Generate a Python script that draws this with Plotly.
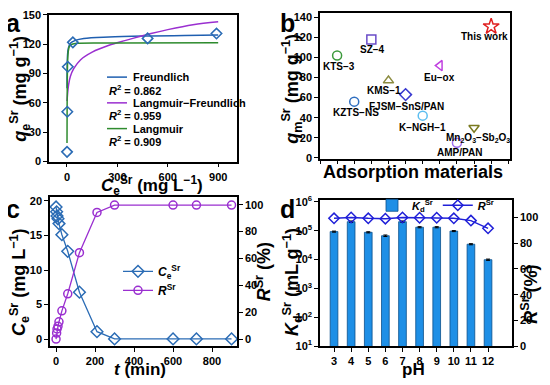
import plotly.graph_objects as go

W, H = 550, 385
FONT = "Liberation Sans"
OFF = 8  # page body margin of the written html

# ---------------- Panel a data ----------------
a_ce = [0.3, 2, 5, 35, 480, 890]
a_qe = [10, 51, 97, 122, 126, 131]
fr_c = [0.2, 1, 3, 8, 20, 50, 100, 250, 500, 700, 900]
fr_q = [75, 95, 108, 116, 121, 124, 126, 127.5, 128.5, 129, 129.5]
lf_c = [0.5, 5, 10, 20, 40, 80, 150, 250, 350, 500, 600, 750, 900]
lf_q = [62, 72, 79, 87, 95, 104, 112, 119, 124, 131, 135, 140, 143]
la_c = [0.2, 1, 2, 4, 8, 15, 30, 60, 300, 900]
la_q = [19, 60, 85, 103, 113, 118, 120, 121, 121.3, 121.5]
a_labels = ["Freundlich", "Langmuir\u2212Freundlich", "Langmuir"]
a_r2 = ["0.862", "0.959", "0.909"]

# ---------------- Panel b data ----------------
b_names = ["KTS\u22123", "KZTS\u2212NS", "SZ\u22124", "KMS\u22121", "FJSM\u2212SnS/PAN",
           "K\u2212NGH\u22121", "Eu\u2212ox", "AMP/PAN",
           "Mn<sub>2</sub>O<sub>3</sub>\u2212Sb<sub>2</sub>O<sub>3</sub>", "This work"]
b_index = [1, 2, 3, 4, 5, 6, 7, 8, 9, 10]
b_qm = [102, 56, 118, 77, 63, 42, 92, 15, 30, 131]
b_symbols = ["circle-open", "circle-open", "square-open", "triangle-up-open", "diamond-open",
             "circle-open", "triangle-left-open", "circle-open", "triangle-down-open", "star-open"]
b_colors = ["#3c9a3c", "#2f6fc0", "#6a4cc8", "#8c8c40", "#3a3ad0",
            "#5cbef0", "#c040e0", "#a070f0", "#7a7a20", "#e02020"]

# ---------------- Panel c data ----------------
c_t = [0, 3, 5, 10, 15, 30, 60, 120, 210, 300, 600, 720, 900]
c_ce = [19.1, 18.4, 17.8, 17.4, 16.7, 15.1, 12.7, 6.8, 1.1, 0.05, 0.05, 0.05, 0.05]
c_r = [0, 4.5, 7.5, 9.5, 12.8, 21, 33.7, 64.3, 94.2, 99.7, 99.7, 99.7, 99.7]

# ---------------- Panel d data ----------------
d_ph = [3, 4, 5, 6, 7, 8, 9, 10, 11, 12]
d_kd = [9.3e4, 2.05e5, 8.8e4, 6.7e4, 2.05e5, 1.32e5, 1.32e5, 9.7e4, 3.4e4, 9.9e3]
d_kd_err = [4e3, 1.2e4, 4e3, 4e3, 1.2e4, 6e3, 6e3, 4e3, 1.5e3, 5e2]
d_r = [99.4, 100, 99.4, 99.1, 100, 99.8, 99.8, 99.4, 97.6, 91.6]
d_log_ticks = [10, 100, 1000, 1e4, 1e5, 1e6]
d_log_text = ["10<sup>1</sup>", "10<sup>2</sup>", "10<sup>3</sup>", "10<sup>4</sup>",
              "10<sup>5</sup>", "10<sup>6</sup>"]

BLUE = "#2b6cb5"
PURPLE = "#9a2fd0"
GREEN = "#2e8b2e"

def px_x(p):
    return min(1.0, max(0.0, (p - OFF) / W))

def px_y(p):
    return min(1.0, max(0.0, 1 - (p - OFF) / H))

fig = go.Figure()

# ---- Panel a traces ----
fig.add_trace(go.Scatter(x=fr_c, y=fr_q, mode="lines", line=dict(color="#1f5fb0", width=1.5, shape="spline"),
                         xaxis="x", yaxis="y", showlegend=False))
fig.add_trace(go.Scatter(x=lf_c, y=lf_q, mode="lines", line=dict(color=PURPLE, width=1.5, shape="spline"),
                         xaxis="x", yaxis="y", showlegend=False))
fig.add_trace(go.Scatter(x=la_c, y=la_q, mode="lines", line=dict(color=GREEN, width=1.5, shape="spline"),
                         xaxis="x", yaxis="y", showlegend=False))
fig.add_trace(go.Scatter(x=a_ce, y=a_qe, mode="markers",
                         marker=dict(symbol="diamond-open", size=8, color=BLUE, line=dict(width=1.6)),
                         xaxis="x", yaxis="y", showlegend=False))

# ---- Panel b traces ----
for i in range(len(b_index)):
    fig.add_trace(go.Scatter(x=[b_index[i]], y=[b_qm[i]], mode="markers",
                             marker=dict(symbol=b_symbols[i], size=9 if i != 9 else 12, color=b_colors[i],
                                         line=dict(width=1.5)),
                             xaxis="x2", yaxis="y2", showlegend=False))

# ---- Panel c traces ----
fig.add_trace(go.Scatter(x=c_t, y=c_ce, mode="lines+markers", name="<i>C</i><sub>e</sub><sup>Sr</sup>",
                         line=dict(color=BLUE, width=1.3),
                         marker=dict(symbol="diamond-open", size=9, color=BLUE, line=dict(width=1.5)),
                         xaxis="x3", yaxis="y3", legend="legend"))
fig.add_trace(go.Scatter(x=c_t, y=c_r, mode="lines+markers", name="<i>R</i><sup>Sr</sup>",
                         line=dict(color=PURPLE, width=1.3),
                         marker=dict(symbol="circle-open", size=8, color=PURPLE, line=dict(width=1.5)),
                         xaxis="x3", yaxis="y4", legend="legend"))

# ---- Panel d traces ----
fig.add_trace(go.Bar(x=d_ph, y=d_kd, name="<i>K</i><sub>d</sub><sup>Sr</sup>", width=0.45,
                     marker=dict(color="#1e8fe6", line=dict(color="#0b4f8a", width=0.8)),
                     error_y=dict(type="data", array=d_kd_err, color="#000", thickness=1, width=2),
                     xaxis="x4", yaxis="y5", legend="legend2"))
fig.add_trace(go.Scatter(x=d_ph, y=d_r, mode="lines+markers", name="<i>R</i><sup>Sr</sup>",
                         line=dict(color="#2020d8", width=1.5),
                         marker=dict(symbol="diamond-open", size=8, color="#2020d8", line=dict(width=1.5)),
                         xaxis="x4", yaxis="y6", legend="legend2"))

tickfont = dict(family=FONT, size=11, color="black", weight="bold")
axis_common = dict(showline=True, linecolor="black", linewidth=1.5, ticks="outside", ticklen=4,
                   tickwidth=1.3, tickcolor="black", showgrid=False, zeroline=False, tickfont=tickfont)

dom_a_x = [px_x(49), px_x(237)]
dom_a_y = [px_y(161), px_y(10)]
dom_b_x = [px_x(320), px_x(510)]
dom_b_y = [px_y(158), px_y(8)]
dom_c_x = [px_x(50), px_x(237)]
dom_c_y = [px_y(351), px_y(197)]
dom_d_x = [px_x(320), px_x(512)]
dom_d_y = [px_y(351), px_y(200)]

fig.update_layout(
    width=W, height=H, margin=dict(l=0, r=0, t=0, b=0),
    paper_bgcolor="white", plot_bgcolor="white",
    font=dict(family=FONT, color="black"),
    xaxis=dict(domain=dom_a_x, anchor="y", range=[-107, 1012], tickvals=[0, 300, 600, 900],
               mirror=True, **axis_common),
    yaxis=dict(domain=dom_a_y, anchor="x", range=[0, 150], tickvals=[0, 30, 60, 90, 120, 150],
               mirror=True, **axis_common),
    xaxis2=dict(domain=dom_b_x, anchor="y2", range=[0, 11.1], tickvals=list(range(0, 12)),
                showticklabels=False, mirror=True, **axis_common),
    yaxis2=dict(domain=dom_b_y, anchor="x2", range=[-1, 144.5], tickvals=list(range(0, 141, 20)),
                mirror=True, **axis_common),
    xaxis3=dict(domain=dom_c_x, anchor="y3", range=[-31, 928], tickvals=[0, 200, 400, 600, 800],
                mirror=True, **axis_common),
    yaxis3=dict(domain=dom_c_y, anchor="x3", range=[-1, 20.6], tickvals=[0, 5, 10, 15, 20], **axis_common),
    yaxis4=dict(domain=dom_c_y, anchor="x3", overlaying="y3", side="right", range=[-5.3, 106],
                tickvals=[0, 20, 40, 60, 80, 100], **axis_common),
    xaxis4=dict(domain=dom_d_x, anchor="y5", range=[2.18, 13.4], tickvals=d_ph,
                mirror=True, **axis_common),
    yaxis5=dict(domain=dom_d_y, anchor="x4", type="log", range=[1, 6.08], tickvals=d_log_ticks,
                ticktext=d_log_text, **axis_common),
    yaxis6=dict(domain=dom_d_y, anchor="x4", overlaying="y5", side="right", range=[0, 114],
                tickvals=[0, 20, 40, 60, 80, 100], **axis_common),
    legend=dict(x=px_x(118), y=px_y(259), xanchor="left", yanchor="top", bgcolor="rgba(0,0,0,0)",
                font=dict(family=FONT, size=12, color="black", weight="bold"), tracegroupgap=0,
                itemwidth=30),
    legend2=dict(x=px_x(372), y=px_y(191), xanchor="left", yanchor="top", orientation="h",
                 bgcolor="rgba(0,0,0,0)", font=dict(family=FONT, size=11, color="black", weight="bold"),
                 itemwidth=30),
    bargap=0.5,
)

ann = []
def add_text(text, x, y, size, angle=0, xanchor="center", yanchor="middle"):
    ann.append(dict(text=text, x=px_x(x), y=px_y(y), xref="paper", yref="paper", showarrow=False,
                    textangle=angle, xanchor=xanchor, yanchor=yanchor,
                    font=dict(family=FONT, size=size, color="black", weight="bold")))

# panel letters
add_text("a", 13, 18, 25)
add_text("b", 287, 18, 25)
add_text("c", 13, 210, 25)
add_text("d", 287, 210, 25)

# axis titles
TS = 18
add_text("<i>q</i><sub>e</sub><sup>Sr</sup> (mg g<sup>\u22121</sup>)", 20, 86, TS, angle=-90)
add_text("<i>C</i><sub>e</sub><sup>Sr</sup> (mg L<sup>\u22121</sup>)", 152, 186, 17)
add_text("<i>q</i><sub>m</sub><sup>Sr</sup> (mg g<sup>\u22121</sup>)", 292, 86, TS, angle=-90)
add_text("Adsorption materials", 413, 172, TS)
add_text("<i>C</i><sub>e</sub><sup>Sr</sup> (mg L<sup>\u22121</sup>)", 19, 285, TS, angle=-90)
add_text("<i>R</i><sup>Sr</sup> (%)", 263, 275, TS, angle=-90)
add_text("<i>t</i> (min)", 140, 375, 17)
add_text("<i>K</i><sub>d</sub><sup>Sr</sup> (mL g<sup>\u22121</sup>)", 292, 285, TS, angle=-90)
add_text("<i>R</i><sup>Sr</sup> (%)", 530, 298, TS, angle=-90)
add_text("pH", 413, 375, 17)

# panel a legend (manual)
a_line_colors = ["#1f5fb0", PURPLE, GREEN]
shapes = []
for k in range(3):
    yl = 74 + 26.5 * k
    shapes.append(dict(type="line", xref="paper", yref="paper", x0=px_x(107), x1=px_x(127),
                       y0=px_y(yl), y1=px_y(yl), line=dict(color=a_line_colors[k], width=1.5)))
    add_text(a_labels[k], 131, yl, 11, xanchor="left")
    add_text("<i>R</i><sup>2</sup> = " + a_r2[k], 107, yl + 13, 11, xanchor="left")

# panel b labels
b_offsets = [(2, 11), (2, 11), (1, 10), (-4, 10), (1, 12), (0, 12), (0, 12), (3, 10), (4, 10), (-7, 10)]
for i in range(len(b_index)):
    ann.append(dict(text=b_names[i], x=b_index[i], y=b_qm[i], xref="x2", yref="y2", showarrow=False,
                    xshift=b_offsets[i][0], yshift=-b_offsets[i][1], yanchor="middle",
                    font=dict(family=FONT, size=10, color="black", weight="bold")))

fig.update_layout(annotations=ann, shapes=shapes)
fig.write_html("out.html")
